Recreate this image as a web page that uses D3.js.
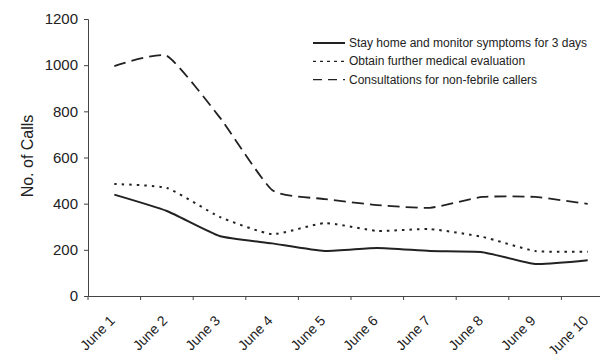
<!DOCTYPE html>
<html><head><meta charset="utf-8">
<script src="https://cdn.jsdelivr.net/npm/d3@7"></script>
<style>body{margin:0;background:#fff;} svg{display:block;font-family:"Liberation Sans",Arial,sans-serif;}</style>
</head><body>
<svg id="c" width="600" height="354"></svg>
<script>
const categories = ["June 1","June 2","June 3","June 4","June 5","June 6","June 7","June 8","June 9","June 10"];
const stayHome = [439, 368, 260, 228, 195, 208, 195, 190, 139, 155];
const furtherEval = [485, 468, 343, 268, 316, 282, 290, 256, 195, 192];
const nonFebrile = [996, 1040, 775, 459, 420, 394, 382, 429, 429, 399];
const seriesNames = ["Stay home and monitor symptoms for 3 days","Obtain further medical evaluation","Consultations for non-febrile callers"];
const yTicks = [0,200,400,600,800,1000,1200];

const svg = d3.select("#c");
const x = d3.scaleBand().domain(categories).range([88, 614]).padding(0);
const y = d3.scaleLinear().domain([0,1200]).range([296,19]);
const ink = "#222";
const ff = "Liberation Sans, Arial, sans-serif";

// y axis
const ya = svg.append("g").attr("transform","translate(88,0)")
  .call(d3.axisLeft(y).tickValues(yTicks).tickSize(4).tickPadding(6).tickFormat(d3.format("d")));
ya.select(".domain").attr("stroke","#444");
ya.selectAll(".tick line").attr("stroke","#444");
ya.selectAll("text").attr("font-size",15).attr("fill",ink).attr("font-family",ff);

// x axis
const xa = svg.append("g").attr("transform","translate(0,296)")
  .call(d3.axisBottom(x).tickSize(0).tickPadding(0));
xa.select(".domain").attr("stroke","#444");
xa.selectAll(".tick text")
  .attr("font-size",14).attr("fill",ink).attr("font-family",ff)
  .attr("text-anchor","end").attr("y",0).attr("dy","0.35em")
  .attr("transform","translate(-2,22) rotate(-45)");
// boundary ticks
const bounds = categories.map(c => x(c)).concat([x(categories[categories.length-1]) + x.bandwidth()]);
svg.append("g").selectAll("line").data(bounds).join("line")
  .attr("x1",d=>d).attr("x2",d=>d).attr("y1",296).attr("y2",300)
  .attr("stroke","#444");

// y label
svg.append("text").attr("transform","translate(33,156) rotate(-90)")
  .attr("text-anchor","middle").attr("font-size",16).attr("fill",ink).text("No. of Calls");

const cx = c => x(c) + x.bandwidth()/2;
const line = d3.line().x((d,i)=>cx(categories[i])).y(d=>y(d)).curve(d3.curveCardinal.tension(0.5));
const styles = [
  {data: stayHome, dash: null, w: 2},
  {data: furtherEval, dash: "2.5,5", w: 2},
  {data: nonFebrile, dash: "12,6", w: 1.8}
];
styles.forEach(s => {
  svg.append("path").datum(s.data).attr("d",line).attr("fill","none")
    .attr("stroke",ink).attr("stroke-width",s.w).attr("stroke-dasharray",s.dash);
});

// legend
const legDash = [null, "3,4", "9,6"];
const lg = svg.append("g");
seriesNames.forEach((n,i) => {
  const yy = 43 + i*18.3;
  lg.append("line").attr("x1",313).attr("x2",345).attr("y1",yy).attr("y2",yy)
    .attr("stroke",ink).attr("stroke-width",i===0?2:1.3).attr("stroke-dasharray",legDash[i]);
  lg.append("text").attr("x",349).attr("y",yy+4).attr("font-size",12).attr("fill",ink).text(n);
});
</script>
</body></html>
